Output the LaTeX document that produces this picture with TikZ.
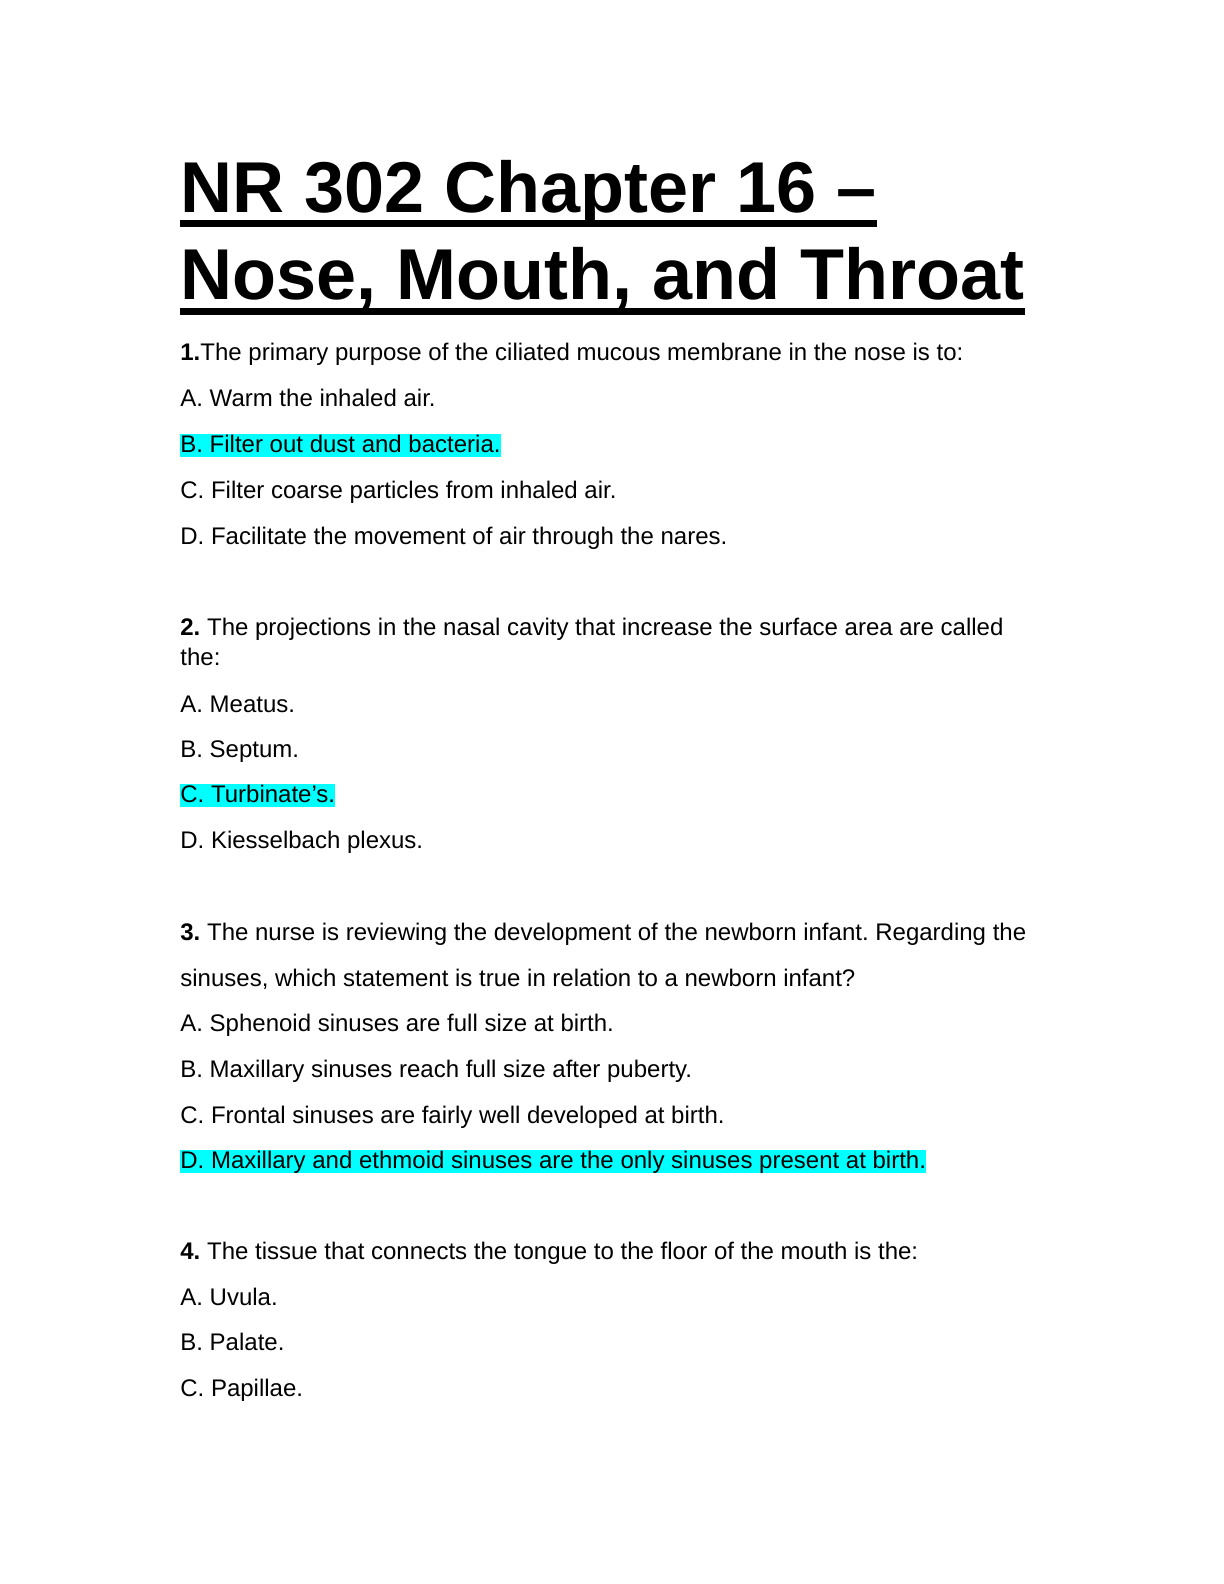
\documentclass[tikz,border=0pt]{standalone}
\usepackage{fontspec}
\setmainfont{Liberation Sans}
\usetikzlibrary{positioning}
\definecolor{marker}{RGB}{0,255,255}
\frenchspacing
\tikzset{
    line/.style={anchor=base west, inner sep=0pt, font=\fontsize{12}{14}\selectfont},
    answer/.style={line, fill=marker, text height=0.905em, text depth=0.24em},
    heading/.style={anchor=base west, inner sep=0pt, font=\fontsize{36}{42}\selectfont\bfseries}
}
\begin{document}
\begin{tikzpicture}[x=0.5pt, y=-0.5pt]
    \useasboundingbox (0, 0) rectangle (1224, 1584);
    \node[heading] (title1) at (180, 212) {NR 302 Chapter 16 –};
    \node[heading] (title2) at (180, 299) {Nose, Mouth, and Throat};
    \draw[line width=3.6pt] ([yshift=-5.6pt]title1.base west) -- ([yshift=-5.6pt]title1.base east);
    \draw[line width=3.6pt] ([yshift=-6.2pt]title2.base west) -- ([yshift=-6.2pt]title2.base east);
    % question 1
    \node[line] (q1) at (180, 360) {\textbf{1.}The primary purpose of the ciliated mucous membrane in the nose is to:};
    \node[line] (q1a) at (180, 406) {A. Warm the inhaled air.};
    \node[answer] (q1b) at (180, 452) {B. Filter out dust and bacteria.};
    \node[line] (q1c) at (180, 498) {C. Filter coarse particles from inhaled air.};
    \node[line] (q1d) at (180, 544) {D. Facilitate the movement of air through the nares.};
    % question 2
    \node[line] (q2) at (180, 635) {\textbf{2.} The projections in the nasal cavity that increase the surface area are called};
    \node[line] (q2x) at (180, 665) {the:};
    \node[line] (q2a) at (180, 712) {A. Meatus.};
    \node[line] (q2b) at (180, 757) {B. Septum.};
    \node[answer] (q2c) at (180, 802) {C. Turbinate’s.};
    \node[line] (q2d) at (180, 848) {D. Kiesselbach plexus.};
    % question 3
    \node[line] (q3) at (180, 940) {\textbf{3.} The nurse is reviewing the development of the newborn infant. Regarding the};
    \node[line] (q3x) at (180, 986) {sinuses, which statement is true in relation to a newborn infant?};
    \node[line] (q3a) at (180, 1031) {A. Sphenoid sinuses are full size at birth.};
    \node[line] (q3b) at (180, 1077) {B. Maxillary sinuses reach full size after puberty.};
    \node[line] (q3c) at (180, 1123) {C. Frontal sinuses are fairly well developed at birth.};
    \node[answer] (q3d) at (180, 1168) {D. Maxillary and ethmoid sinuses are the only sinuses present at birth.};
    % question 4
    \node[line] (q4) at (180, 1259) {\textbf{4.} The tissue that connects the tongue to the floor of the mouth is the:};
    \node[line] (q4a) at (180, 1305) {A. Uvula.};
    \node[line] (q4b) at (180, 1350) {B. Palate.};
    \node[line] (q4c) at (180, 1396) {C. Papillae.};
\end{tikzpicture}
\end{document}
